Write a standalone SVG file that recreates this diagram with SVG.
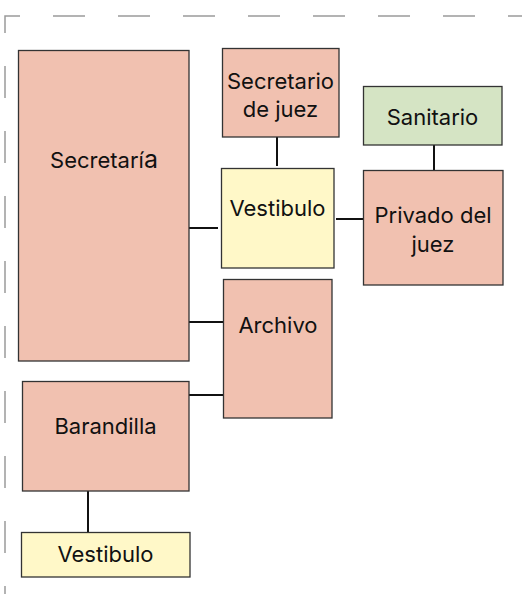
<svg xmlns="http://www.w3.org/2000/svg" width="522" height="594" viewBox="0 0 522 594">
<style>
.frame{fill:none;stroke:#9a9a9a;stroke-width:1.5;stroke-dasharray:32 33;stroke-dashoffset:18}
.room{stroke:#333;stroke-width:1.3}
.r{fill:#F1C1B0}
.y{fill:#FFF8C8}
.g{fill:#D5E4C4}
.lbl{font-family:Inter,"Liberation Sans",Arial,sans-serif;font-size:22px;fill:#111;text-anchor:middle}
.conn line{stroke:#111;stroke-width:2}
</style>
<path class="frame" d="M5 600 L5 16 L540 16"/>
<g class="conn">
<line x1="277" y1="137" x2="277" y2="166"/>
<line x1="434" y1="145" x2="434" y2="171"/>
<line x1="189" y1="228" x2="218" y2="228"/>
<line x1="336" y1="219" x2="363" y2="219"/>
<line x1="189" y1="322" x2="223" y2="322"/>
<line x1="189" y1="395" x2="226" y2="395"/>
<line x1="88" y1="491" x2="88" y2="532"/>
</g>
<g id="secretaria">
<rect class="room r" x="18.5" y="50.5" width="170.5" height="310.5"/>
<text class="lbl" x="104" y="168">Secretarí<tspan font-size="25">a</tspan></text>
</g>
<g id="secretario-juez">
<rect class="room r" x="222.5" y="48.5" width="116.5" height="88.5"/>
<text class="lbl" x="280.5" y="89">Secretario</text>
<text class="lbl" x="280.5" y="116.5">de juez</text>
</g>
<g id="sanitario">
<rect class="room g" x="363.5" y="86.5" width="138.5" height="58.5"/>
<text class="lbl" x="432.5" y="125">Sanitario</text>
</g>
<g id="vestibulo-1">
<rect class="room y" x="221.5" y="168.5" width="112.5" height="99.5"/>
<text class="lbl" x="277.5" y="216">Vestibulo</text>
</g>
<g id="privado-juez">
<rect class="room r" x="363.5" y="170.5" width="139.5" height="114.5"/>
<text class="lbl" x="433" y="223">Privado del</text>
<text class="lbl" x="433" y="252">juez</text>
</g>
<g id="archivo">
<rect class="room r" x="223.5" y="279.5" width="108.5" height="138.5"/>
<text class="lbl" x="278" y="333">Archivo</text>
</g>
<g id="barandilla">
<rect class="room r" x="22.5" y="381.5" width="166.5" height="109.5"/>
<text class="lbl" x="105.5" y="434">Barandilla</text>
</g>
<g id="vestibulo-2">
<rect class="room y" x="21.5" y="532.5" width="168.5" height="44.5"/>
<text class="lbl" x="105.5" y="562">Vestibulo</text>
</g>
</svg>
